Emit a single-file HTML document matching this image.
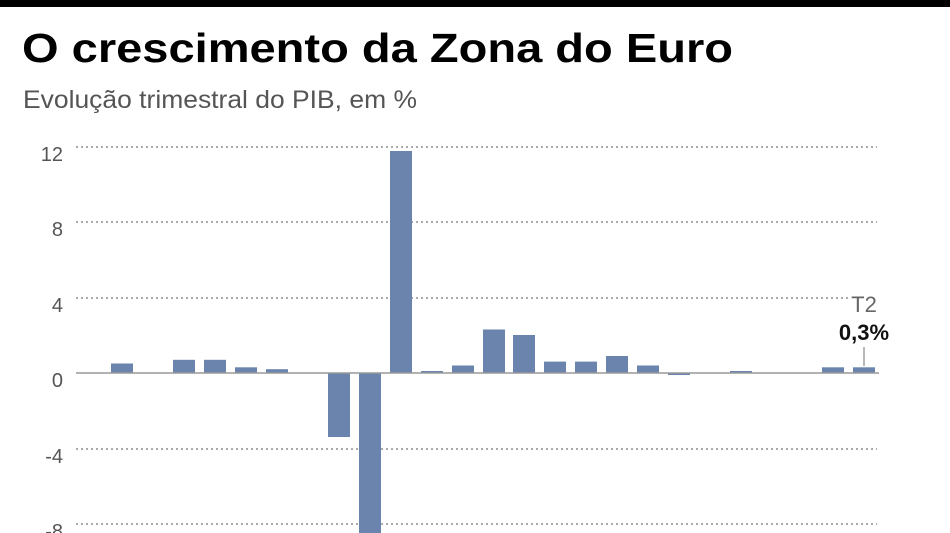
<!DOCTYPE html>
<html><head><meta charset="utf-8"><style>
html,body{margin:0;padding:0;background:#fff;}
svg{display:block;}
</style></head><body>
<svg width="950" height="533" viewBox="0 0 950 533" xmlns="http://www.w3.org/2000/svg" font-family="Liberation Sans, sans-serif">
<rect x="0" y="0" width="950" height="7" fill="#000"/>
<text x="22" y="62" font-size="41" font-weight="bold" fill="#000" textLength="711" lengthAdjust="spacingAndGlyphs">O crescimento da Zona do Euro</text>
<text x="23" y="108" font-size="25" fill="#555" textLength="394" lengthAdjust="spacingAndGlyphs">Evolução trimestral do PIB, em %</text>
<g stroke="#777" stroke-width="1.2" stroke-dasharray="2,3">
<line x1="76" y1="147" x2="877" y2="147"/>
<line x1="76" y1="222" x2="877" y2="222"/>
<line x1="76" y1="298" x2="848" y2="298"/>
<line x1="76" y1="449" x2="877" y2="449"/>
<line x1="76" y1="524" x2="877" y2="524"/>
</g>
<g font-size="20" fill="#555" text-anchor="end">
<text x="63" y="161">12</text>
<text x="63" y="236">8</text>
<text x="63" y="312">4</text>
<text x="63" y="387">0</text>
<text x="63" y="463">-4</text>
<text x="63" y="538">-8</text>
</g>
<g fill="#6a84ae">
<rect x="111" y="363.5" width="22" height="9.5"/>
<rect x="173" y="359.8" width="22" height="13.2"/>
<rect x="204" y="359.8" width="22" height="13.2"/>
<rect x="235" y="367.3" width="22" height="5.7"/>
<rect x="266" y="369.2" width="22" height="3.8"/>
<rect x="328" y="373" width="22" height="64"/>
<rect x="359" y="373" width="22" height="160"/>
<rect x="390" y="151" width="22" height="222"/>
<rect x="421" y="371" width="22" height="2"/>
<rect x="452" y="365.5" width="22" height="7.5"/>
<rect x="483" y="329.5" width="22" height="43.5"/>
<rect x="513" y="335" width="22" height="38"/>
<rect x="544" y="361.6" width="22" height="11.4"/>
<rect x="575" y="361.6" width="22" height="11.4"/>
<rect x="606" y="356" width="22" height="17"/>
<rect x="637" y="365.5" width="22" height="7.5"/>
<rect x="668" y="373" width="22" height="2"/>
<rect x="730" y="371" width="22" height="2"/>
<rect x="822" y="367.3" width="22" height="5.7"/>
<rect x="853" y="367.3" width="22" height="5.7"/>
</g>
<line x1="76" y1="373" x2="879" y2="373" stroke="#999" stroke-width="1.5"/>
<line x1="864" y1="347" x2="864" y2="366" stroke="#888" stroke-width="1.2"/>
<text x="864" y="312" font-size="22" fill="#666" text-anchor="middle">T2</text>
<text x="864" y="340" font-size="22" font-weight="bold" fill="#111" text-anchor="middle">0,3%</text>
</svg>
</body></html>
